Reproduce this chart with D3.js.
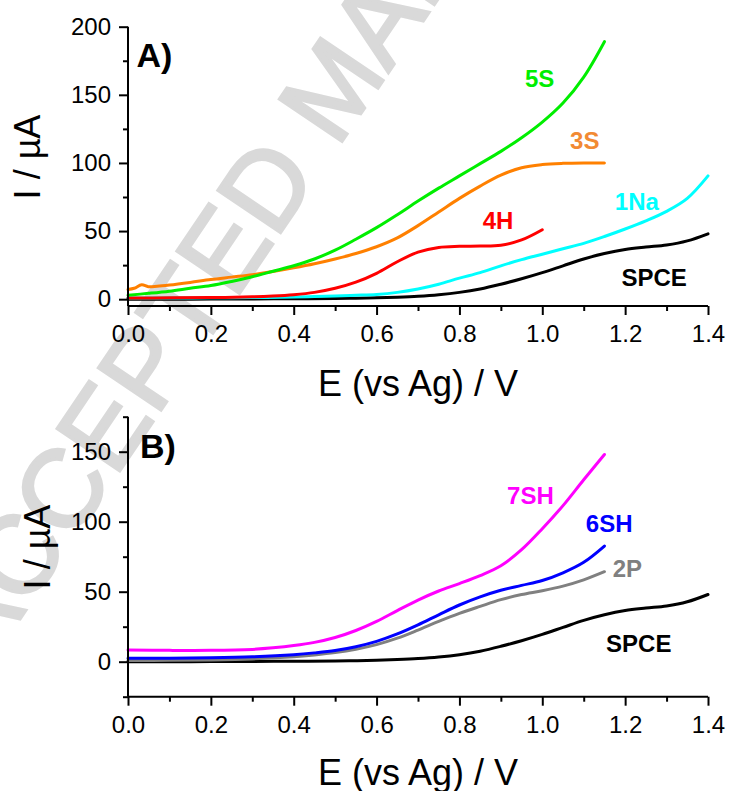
<!DOCTYPE html>
<html><head><meta charset="utf-8">
<script src="https://cdn.jsdelivr.net/npm/d3@7/dist/d3.min.js"></script>
<style>
body{margin:0;background:#fff}
svg{display:block}
text{font-family:"Liberation Sans",Arial,Helvetica,sans-serif}
</style>
</head><body>
<svg id="chart" width="729" height="791"></svg>
<script>
// ---- tick definitions ----
const xTicks = [0, 0.2, 0.4, 0.6, 0.8, 1.0, 1.2, 1.4];
const xMinor = [0.1, 0.3, 0.5, 0.7, 0.9, 1.1, 1.3];
const yTicksA = [0, 50, 100, 150, 200];
const yMinorA = [25, 75, 125, 175];
const yTicksB = [0, 50, 100, 150];
const yMinorB = [-25, 25, 75, 125, 175];

// ---- series: [E (V), I (uA)] ----
const spce = [[0,0],[0.1,0],[0.2,0.1],[0.3,0.2],[0.4,0.3],[0.5,0.5],[0.55,0.7],[0.6,1],[0.65,1.5],[0.7,2.2],[0.75,3.3],[0.8,5],[0.85,7.5],[0.9,11],[0.95,15],[1.0,19.5],[1.05,24.5],[1.1,29.5],[1.15,33.5],[1.2,36.5],[1.25,38.3],[1.3,39.8],[1.35,42.8],[1.4,48]];
const s5S = [[0,2.9],[0.05,4.3],[0.1,5.9],[0.15,8],[0.2,10],[0.25,13],[0.3,16.5],[0.35,20.5],[0.4,24.5],[0.45,29.5],[0.5,36],[0.55,44],[0.6,52.5],[0.65,62],[0.7,72],[0.75,81.5],[0.8,90.5],[0.85,99.5],[0.9,108.5],[0.95,118.5],[1.0,130],[1.05,144],[1.1,163],[1.15,189]];
const s3S = [[0,7.1],[0.015,8],[0.033,10.6],[0.049,9.2],[0.07,9.5],[0.1,10.4],[0.15,12.3],[0.2,14.4],[0.25,16.2],[0.3,18],[0.35,20.3],[0.4,23],[0.45,26],[0.5,29.5],[0.55,33.5],[0.6,38.5],[0.65,45],[0.7,54],[0.75,64],[0.8,74],[0.85,83],[0.9,91],[0.95,96.5],[1.0,98.8],[1.05,99.7],[1.1,100],[1.15,100]];
const s4H = [[0,0.8],[0.1,1],[0.2,1.2],[0.3,1.7],[0.35,2.3],[0.4,3.3],[0.45,5],[0.5,8],[0.55,12.5],[0.6,19],[0.65,27.5],[0.7,34.5],[0.75,38],[0.8,38.8],[0.85,39],[0.9,39.6],[0.95,43.5],[1.0,51]];
const s1Na = [[0,0.8],[0.1,0.8],[0.2,1],[0.3,1.2],[0.4,1.6],[0.45,2],[0.5,2.4],[0.55,2.9],[0.6,3.5],[0.65,5],[0.7,7.5],[0.75,11],[0.8,15.5],[0.85,19.5],[0.9,24.5],[0.95,29],[1.0,33],[1.05,37],[1.1,41],[1.15,46],[1.2,51.5],[1.25,57.5],[1.3,64.5],[1.35,74],[1.4,90.5]];
const s7SH = [[0,8.4],[0.1,8.1],[0.2,8.1],[0.3,8.8],[0.35,9.9],[0.4,11.5],[0.45,13.8],[0.5,17.3],[0.55,22.3],[0.6,28.8],[0.65,36.5],[0.7,44],[0.75,50.5],[0.8,55.8],[0.85,61.5],[0.9,68.5],[0.95,80],[1.0,95],[1.05,111.5],[1.1,130],[1.15,148]];
const s6SH = [[0,2.4],[0.1,2.5],[0.2,2.8],[0.3,3.5],[0.4,5],[0.45,6.3],[0.5,8],[0.55,10.7],[0.6,14.5],[0.65,19.8],[0.7,26.3],[0.75,33.5],[0.8,40.5],[0.85,46.3],[0.9,51],[0.95,54.5],[1.0,58],[1.05,63.5],[1.1,71],[1.15,82.6]];
const s2P = [[0,0.8],[0.1,1],[0.2,1.3],[0.3,2],[0.4,3.5],[0.45,4.8],[0.5,6.5],[0.55,8.9],[0.6,12.2],[0.65,16.8],[0.7,22.6],[0.75,28.8],[0.8,34.5],[0.85,39.5],[0.9,44.3],[0.95,48],[1.0,50.7],[1.05,54],[1.1,58.5],[1.15,64.3]];

// series names, colours, label anchor (data units)
const seriesA = [
  {name:"SPCE", data:spce, color:"#000000", lab:[1.191, 9.5]},
  {name:"1Na", data:s1Na, color:"#00ffff", lab:[1.175, 65.2]},
  {name:"4H", data:s4H, color:"#ff0000", lab:[0.856, 51.8]},
  {name:"3S", data:s3S, color:"#ff8000", lab:[1.067, 110.3], labColor:"#f28a33"},
  {name:"5S", data:s5S, color:"#00ee00", lab:[0.958, 155.9]}
];
const seriesB = [
  {name:"SPCE", data:spce, color:"#000000", lab:[1.154, 7.1]},
  {name:"2P", data:s2P, color:"#808080", lab:[1.170, 60.5]},
  {name:"6SH", data:s6SH, color:"#0000ff", lab:[1.105, 92.9]},
  {name:"7SH", data:s7SH, color:"#ff00ff", lab:[0.915, 112.6]}
];

const svg = d3.select("#chart");

// watermark
svg.append("text")
  .attr("transform","translate(-15,671) rotate(-56)")
  .attr("font-size",110)
  .attr("fill","#d9d9d9")
  .attr("stroke","#d9d9d9").attr("stroke-width",3)
  .text("ACCEPTED MANUSCRIPT");

function panel(cfg){
  const x = d3.scaleLinear().domain([0,1.4]).range([128,708]);
  const y = d3.scaleLinear().domain(cfg.yDomain).range([cfg.bottom, cfg.top]);
  const g = svg.append("g");

  // lines
  const line = d3.line().x(d=>x(d[0])).y(d=>y(d[1])).curve(d3.curveCatmullRom.alpha(0.5));
  cfg.series.forEach(s=>{
    g.append("path").attr("d", line(s.data)).attr("fill","none")
      .attr("stroke", s.color).attr("stroke-width",3)
      .attr("stroke-linejoin","round").attr("stroke-linecap","round");
  });

  // axes
  const xa = g.append("g").attr("transform",`translate(0,${cfg.bottom})`)
    .call(d3.axisBottom(x).tickValues(xTicks).tickFormat(d3.format(".1f")).tickSize(9).tickPadding(10));
  const xm = g.append("g").attr("transform",`translate(0,${cfg.bottom})`)
    .call(d3.axisBottom(x).tickValues(xMinor).tickFormat("").tickSize(5));
  const ya = g.append("g").attr("transform",`translate(128,0)`)
    .call(d3.axisLeft(y).tickValues(cfg.yTicks).tickSize(9).tickPadding(8));
  const ym = g.append("g").attr("transform",`translate(128,0)`)
    .call(d3.axisLeft(y).tickValues(cfg.yMinor).tickFormat("").tickSize(5));
  [xa,xm,ya,ym].forEach(a=>{
    a.selectAll("path").attr("stroke","#000").attr("stroke-width",2);
    a.selectAll("line").attr("stroke","#000").attr("stroke-width",2);
    a.selectAll("text").attr("font-size",24).attr("fill","#000")
      .style("font-family",'"Liberation Sans",Arial,sans-serif');
  });
  xm.select("path").remove(); ym.select("path").remove();
  xa.select("path").attr("d",`M128,0H708`);
  ya.select("path").attr("d",`M0,${cfg.top}V${cfg.bottom}`);

  // axis titles
  g.append("text").attr("x",418).attr("y",cfg.xTitleY).attr("text-anchor","middle")
    .attr("font-size",36).text("E (vs Ag) / V");
  g.append("text").attr("transform",`translate(${cfg.yTitleX},${cfg.yTitleY}) rotate(-90)`)
    .attr("text-anchor","middle").attr("font-size",36).text("I / \u00b5A");

  // panel letter
  g.append("text").attr("x",cfg.letterX).attr("y",cfg.top+cfg.letterDy)
    .attr("font-size",34).attr("font-weight","bold").text(cfg.letter);

  // series labels
  cfg.series.forEach(s=>{
    g.append("text").attr("x",x(s.lab[0])).attr("y",y(s.lab[1]))
      .attr("font-size",24).attr("font-weight","bold")
      .attr("fill", s.labColor || s.color).text(s.name);
  });
}

panel({yDomain:[-5,200], top:26.7, bottom:306, yTicks:yTicksA, yMinor:yMinorA,
  series:seriesA, xTitleY:396, yTitleX:40, yTitleY:157, letter:"A)", letterX:136.5, letterDy:40.6});
panel({yDomain:[-25,175], top:416.7, bottom:696.7, yTicks:yTicksB, yMinor:yMinorB,
  series:seriesB, xTitleY:785, yTitleX:50, yTitleY:547, letter:"B)", letterX:140, letterDy:41.5});
</script>
</body></html>
